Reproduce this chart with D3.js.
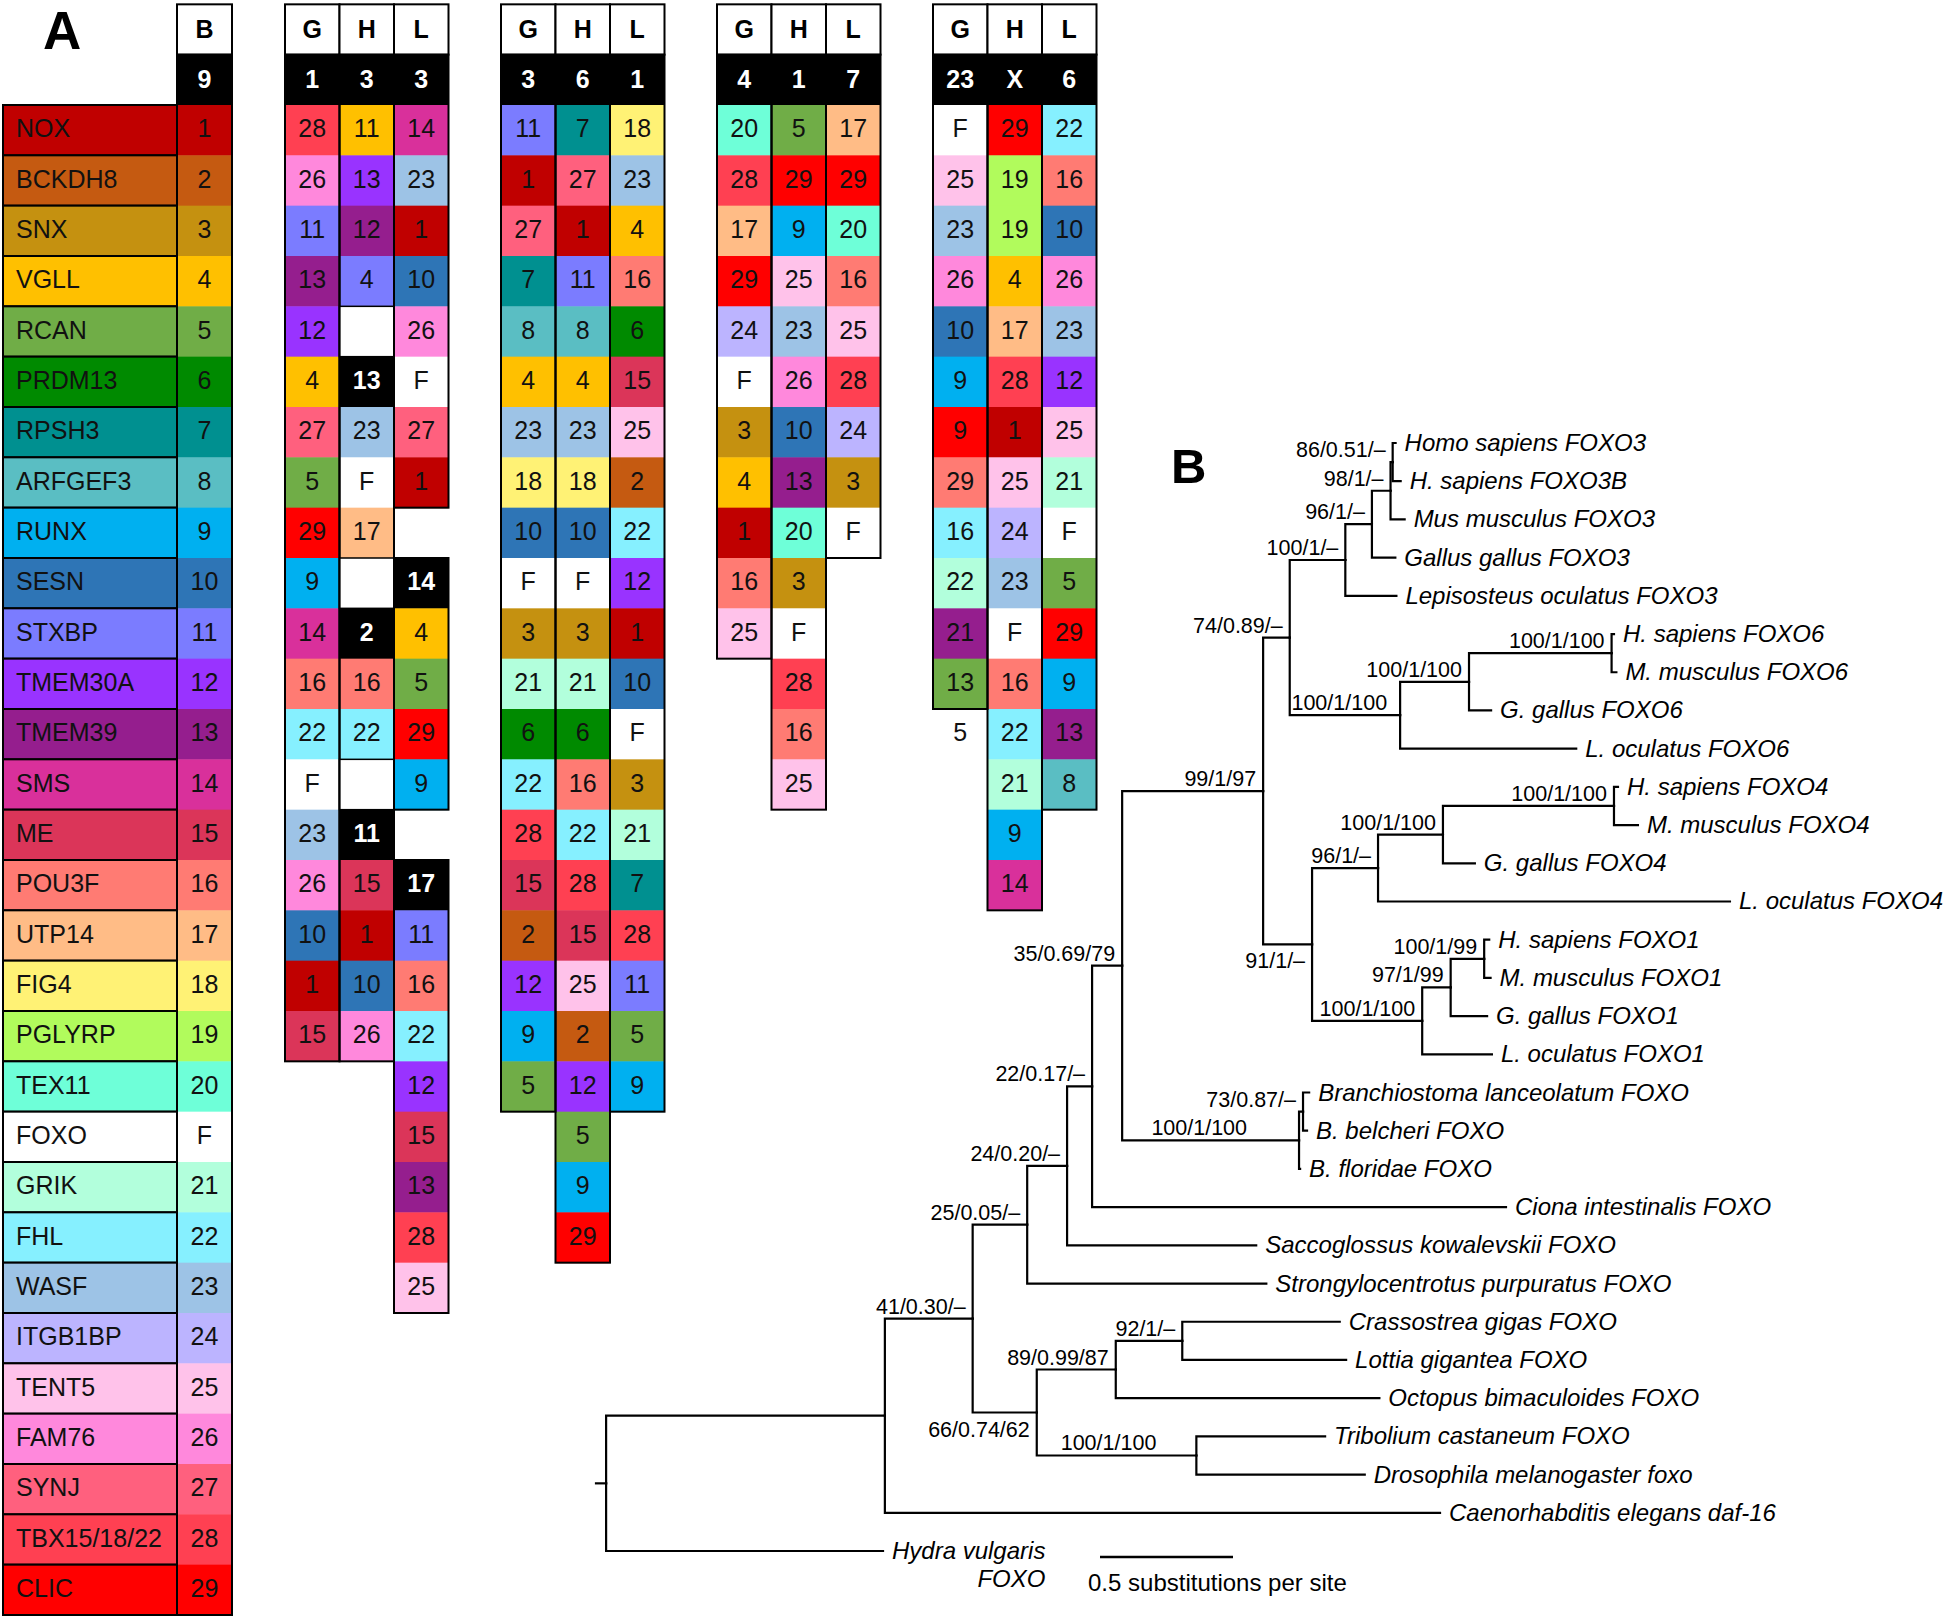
<!DOCTYPE html>
<html><head><meta charset="utf-8">
<script src="https://cdn.jsdelivr.net/npm/d3@7"></script>
<style>
body{margin:0;background:#fff}
svg{display:block}
text{font-family:"Liberation Sans",Arial,Helvetica,sans-serif}
</style>
</head><body>
<svg id="chart" width="1952" height="1620"></svg>
<script>
// ---------------- Panel A data ----------------
const geneNames = ["NOX","BCKDH8","SNX","VGLL","RCAN","PRDM13","RPSH3","ARFGEF3","RUNX","SESN","STXBP","TMEM30A","TMEM39","SMS","ME","POU3F","UTP14","FIG4","PGLYRP","TEX11","FOXO","GRIK","FHL","WASF","ITGB1BP","TENT5","FAM76","SYNJ","TBX15/18/22","CLIC"];
const geneKeys = ["1","2","3","4","5","6","7","8","9","10","11","12","13","14","15","16","17","18","19","20","F","21","22","23","24","25","26","27","28","29"];
const geneColors = ["#C00000","#C55A11","#C59110","#FFC000","#70AD47","#008A00","#009090","#5ABEC3","#00B0F0","#2E75B6","#7B7CFF","#9933FF","#951E8E","#D9309B","#DB3559","#FF7B73","#FFBC86","#FFF275","#B1FB5C","#6EFFD8","#FFFFFF","#B2FFDC","#86F0FF","#9DC3E6","#BCB4FF","#FFC2EA","#FF88DC","#FF607E","#FF4052","#FF0000"];
const bHeader = "B", bChrom = "9";
const groupHeaders = ["G","H","L"];
const groupChroms = [["1","3","3"],["3","6","1"],["4","1","7"],["23","X","6"]];
// cell codes: "label" (colour = label), "label@colourKey", "" blank, "kN" black cell, "tN" plain text, null = gap
const g1G = ["28","26","11","13","12","4","27","5","29","9","14","16","22","F","23","26","10","1","15"];
const g1H = ["11@4","13@12","12@13","4@11","","k13","23","F","17","","k2","16","22","","k11","15","1","10","26"];
const g1L = ["14","23","1","10","26","F","27","1",null,"k14","4","5","29","9",null,"k17","11","16","22","12","15","13","28","25"];
const g2G = ["11","1","27","7","8","4","23","18","10","F","3","21","6","22","28","15","2","12","9","5"];
const g2H = ["7","27","1","11","8","4","23","18","10","F","3","21","6","16","22","28","15","25","2","12","5","9","29"];
const g2L = ["18","23","4","16","6","15","25","2","22","12","1","10","F","3","21","7","28","11","5","9"];
const g3G = ["20","28","17","29","24","F","3","4","1","16","25"];
const g3H = ["5","29","9","25","23","26","10","13","20","3","F","28","16","25"];
const g3L = ["17","29","20","16","25","28","24","3","F"];
const g4G = ["F","25","23","26","10","9","9@29","29@16","16@22","22@21","21@13","13@5","t5"];
const g4H = ["29","19","19","4","17","28","1","25","24","23","F","16","22","21","9","14"];
const g4L = ["22","16","10","26","23","12","25","21","F","5","29","9","13","8"];
const groupColumns = [[g1G,g1H,g1L],[g2G,g2H,g2L],[g3G,g3H,g3L],[g4G,g4H,g4L]];

// ---------------- Panel B data ----------------
const treeIds     = ["root","r","AA","V","U","T","Q","P","F","E","D","C","B","A","Hs3","Hs3B","Mm3","Gg3","Lo3","G6","H6","I6","Hs6","Mm6","Gg6","Lo6","L","K","J","I4","Hs4","Mm4","Gg4","Lo4","M","N","O","Hs1","Mm1","Gg1","Lo1","R","S","Bl","Bb","Bf","Ci","Sk","Sp","W","X","Y","Cg","Lg","Ob","Z","Tc","Dm","Ce","Hv"];
const treeParents = ["","root","r","AA","V","U","T","Q","P","F","E","D","C","B","A","A","B","C","D","E","G6","H6","I6","I6","H6","G6","F","L","K","J","I4","I4","J","K","L","M","N","O","O","N","M","P","R","S","S","R","Q","T","U","V","W","X","Y","Y","X","W","Z","Z","AA","r"];
const branchLengths = [0,0.038,1.048,0.330,0.205,0.150,0.094,0.113,0.530,0.100,0.209,0.100,0.070,0.008,0.011,0.030,0.053,0.088,0.192,0.415,0.259,0.536,0.009,0.018,0.083,0.662,0.184,0.248,0.244,0.643,0.015,0.090,0.120,1.323,0.414,0.107,0.126,0.019,0.024,0.137,0.262,0.665,0.015,0.023,0.015,0.004,1.556,0.711,0.899,0.241,0.297,0.250,0.592,0.616,0.991,0.600,0.484,0.633,2.087,1.041];
const nodeLabels = ["","","","41/0.30/–","25/0.05/–","24/0.20/–","22/0.17/–","35/0.69/79","99/1/97","74/0.89/–","100/1/–","96/1/–","98/1/–","86/0.51/–",
 "Homo sapiens FOXO3","H. sapiens FOXO3B","Mus musculus FOXO3","Gallus gallus FOXO3","Lepisosteus oculatus FOXO3",
 "100/1/100","100/1/100","100/1/100","H. sapiens FOXO6","M. musculus FOXO6","G. gallus FOXO6","L. oculatus FOXO6",
 "91/1/–","96/1/–","100/1/100","100/1/100","H. sapiens FOXO4","M. musculus FOXO4","G. gallus FOXO4","L. oculatus FOXO4",
 "100/1/100","97/1/99","100/1/99","H. sapiens FOXO1","M. musculus FOXO1","G. gallus FOXO1","L. oculatus FOXO1",
 "100/1/100","73/0.87/–","Branchiostoma lanceolatum FOXO","B. belcheri FOXO","B. floridae FOXO",
 "Ciona intestinalis FOXO","Saccoglossus kowalevskii FOXO","Strongylocentrotus purpuratus FOXO",
 "66/0.74/62","89/0.99/87","92/1/–","Crassostrea gigas FOXO","Lottia gigantea FOXO","Octopus bimaculoides FOXO",
 "100/1/100","Tribolium castaneum FOXO","Drosophila melanogaster foxo","Caenorhabditis elegans daf-16","Hydra vulgaris|FOXO"];
const labelsBelow = ["L","W"];
const labelExtraShift = {R:45, Z:33, G6:6};
const scaleBarValue = 0.5;
const scaleBarText = "0.5 substitutions per site";

// ---------------- drawing ----------------
const svg = d3.select("#chart");
svg.append("rect").attr("width",1952).attr("height",1620).attr("fill","#fff");
const colorByKey = new Map(geneKeys.map((k,i)=>[k,geneColors[i]]));
const rowY = d3.scaleLinear().domain([0,30]).range([105,1615]);
const rowH = rowY(1)-rowY(0);
const groupX = d3.scaleLinear().domain([0,1]).range([285,501]);
const colW = 54.5;
const FS = 25;
const TDY = 7;

function parseCell(s){
  if (s === null || s === undefined) return null;
  if (s === "") return {type:"blank", label:""};
  if (s[0] === "k") return {type:"black", label:s.slice(1)};
  if (s[0] === "t") return {type:"text", label:s.slice(1)};
  const [label,key] = s.split("@");
  return {type:"color", label, key: key || label};
}

const layerFill = svg.append("g");
const layerLine = svg.append("g");
const layerText = svg.append("g");

// legend column
layerFill.selectAll("rect.leg").data(geneNames).join("rect")
  .attr("x",3).attr("y",(d,i)=>rowY(i)).attr("width",174).attr("height",rowH)
  .attr("fill",(d,i)=>geneColors[i]).attr("stroke","#000").attr("stroke-width",2);
layerText.selectAll("text.leg").data(geneNames).join("text")
  .attr("x",16).attr("y",(d,i)=>rowY(i)+rowH/2+TDY).attr("font-size",FS).attr("fill","#111").text(d=>d);

// columns
const columns = [{x:177, w:55, head:bHeader, chrom:bChrom, cells:geneKeys}];
groupColumns.forEach((grp,g)=>grp.forEach((cells,c)=>{
  columns.push({x:groupX(g)+c*colW, w:colW, head:groupHeaders[c], chrom:groupChroms[g][c], cells});
}));

columns.forEach(col=>{
  const cx = col.x + col.w/2;
  layerLine.append("rect").attr("x",col.x).attr("y",rowY(-2)).attr("width",col.w).attr("height",rowH)
    .attr("fill","#fff").attr("stroke","#000").attr("stroke-width",2);
  layerText.append("text").attr("x",cx).attr("y",rowY(-2)+rowH/2+TDY+1).attr("text-anchor","middle")
    .attr("font-size",FS).attr("font-weight","bold").text(col.head);
  layerFill.append("rect").attr("x",col.x).attr("y",rowY(-1)).attr("width",col.w).attr("height",rowH+0.5).attr("fill","#000");
  layerText.append("text").attr("x",cx).attr("y",rowY(-1)+rowH/2+TDY+1).attr("text-anchor","middle")
    .attr("font-size",FS).attr("font-weight","bold").attr("fill","#fff").text(col.chrom);
  const parsed = col.cells.map(parseCell);
  parsed.forEach((c,i)=>{
    if (!c) return;
    const y = rowY(i);
    if (c.type === "color" || c.type === "black"){
      layerFill.append("rect").attr("x",col.x).attr("y",y).attr("width",col.w).attr("height",rowH+0.5)
        .attr("fill", c.type==="black" ? "#000" : colorByKey.get(c.key));
    } else if (c.type === "blank"){
      layerLine.append("rect").attr("x",col.x).attr("y",y).attr("width",col.w).attr("height",rowH)
        .attr("fill","#fff").attr("stroke","#000").attr("stroke-width",1.5);
    }
    if (c.label){
      layerText.append("text").attr("x",cx).attr("y",y+rowH/2+TDY).attr("text-anchor","middle")
        .attr("font-size",FS).attr("font-weight",c.type==="black"?"bold":"normal")
        .attr("fill",c.type==="black"?"#fff":"#111").text(c.label);
    }
  });
  let start = null;
  const boxed = parsed.map(c=>c && c.type!=="text");
  for (let i=0;i<=boxed.length;i++){
    if (i<boxed.length && boxed[i]){ if (start===null) start=i; }
    else if (start!==null){
      const top = start===0 ? rowY(-1) : rowY(start);
      layerLine.append("rect").attr("x",col.x).attr("y",top).attr("width",col.w).attr("height",rowY(i)-top)
        .attr("fill","none").attr("stroke","#000").attr("stroke-width",2);
      start=null;
    }
  }
});

// panel letters
svg.append("text").attr("x",43).attr("y",49).attr("font-size",53).attr("font-weight","bold").text("A");
svg.append("text").attr("x",1171).attr("y",483).attr("font-size",49).attr("font-weight","bold").text("B");

// ---------------- tree ----------------
const table = treeIds.map((id,i)=>({id, parent:treeParents[i], length:branchLengths[i], label:nodeLabels[i]}));
const root = d3.stratify().id(d=>d.id).parentId(d=>d.parent)(table);
d3.cluster().separation(()=>1).size([1,1])(root);
root.eachBefore(n=>{ n.dist = n.parent ? n.parent.dist + n.data.length : 0; });
const leaves = root.leaves();
const yT = d3.scaleLinear().domain(d3.extent(leaves,d=>d.x)).range([443,1551]);
const xT = d3.scaleLinear().domain([0,1]).range([596,862]);
const gT = svg.append("g");
gT.selectAll("path.link").data(root.links()).join("path")
  .attr("fill","none").attr("stroke","#000").attr("stroke-width",2.2).attr("stroke-linecap","square")
  .attr("d",l=>`M${xT(l.source.dist)},${yT(l.source.x)}V${yT(l.target.x)}H${xT(l.target.dist)}`);

const below = new Set(labelsBelow);
gT.selectAll("text.sup").data(root.descendants().filter(d=>d.children && d.data.label)).join("text")
  .attr("x",d=>xT(d.dist)-7-(labelExtraShift[d.id]||0)).attr("y",d=>yT(d.x)+(below.has(d.id)?24:-5))
  .attr("text-anchor","end").attr("font-size",21.5).text(d=>d.data.label);

leaves.forEach(d=>{
  const parts = d.data.label.split("|");
  const t = gT.append("text").attr("x",xT(d.dist)+9).attr("y",yT(d.x)+8)
    .attr("font-size",24).attr("font-style","italic").text(parts[0]);
  if (parts.length>1){
    const endX = xT(d.dist)+9+t.node().getComputedTextLength();
    gT.append("text").attr("x",endX).attr("y",yT(d.x)+36).attr("text-anchor","end")
      .attr("font-size",24).attr("font-style","italic").text(parts[1]);
  }
});

// scale bar
const sbX = 1100, sbY = 1557;
gT.append("line").attr("x1",sbX).attr("x2",sbX + xT(scaleBarValue)-xT(0)).attr("y1",sbY).attr("y2",sbY)
  .attr("stroke","#000").attr("stroke-width",2.5);
gT.append("text").attr("x",sbX-12).attr("y",sbY+34).attr("font-size",24).text(scaleBarText);
</script>
</body></html>
